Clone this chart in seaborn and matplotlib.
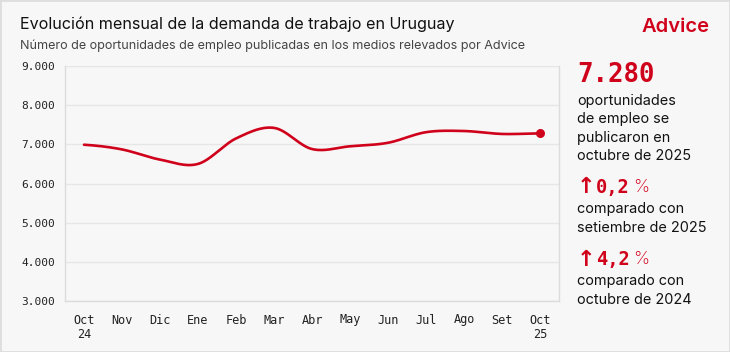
import numpy as np
import pandas as pd
import matplotlib
matplotlib.use("Agg")
import matplotlib.pyplot as plt
import seaborn as sns
from matplotlib.patches import Rectangle

months = ["Oct\n24", "Nov", "Dic", "Ene", "Feb", "Mar", "Abr", "May", "Jun", "Jul", "Ago", "Set", "Oct\n25"]
values = [6990, 6870, 6610, 6500, 7150, 7420, 6880, 6950, 7040, 7310, 7340, 7265, 7280]
yticks = [3000, 4000, 5000, 6000, 7000, 8000, 9000]
ytick_labels = ["3.000", "4.000", "5.000", "6.000", "7.000", "8.000", "9.000"]

title = "Evolución mensual de la demanda de trabajo en Uruguay"
subtitle = "Número de oportunidades de empleo publicadas en los medios relevados por Advice"
RED = "#d0021b"
BG = "#f7f7f7"

sns.set_theme(style="white")
plt.rcParams['font.family'] = ['Inter', 'DejaVu Sans']

fig = plt.figure(figsize=(7.3, 3.52), dpi=100, facecolor=BG)
ax = fig.add_axes([65/730, 1-301/352, (559-65)/730, (301-66)/352])
ax.set_facecolor(BG)

# Catmull-Rom smoothing for rendering
x = np.arange(len(values), dtype=float)
y = np.array(values, dtype=float)
P = np.concatenate([[y[0]], y, [y[-1]]])
X = np.concatenate([[x[0]-1], x, [x[-1]+1]])
xs, ys = [], []
for i in range(1, len(P)-2):
    t = np.linspace(0, 1, 30, endpoint=(i == len(P)-3))
    for arr, out in ((X, xs), (P, ys)):
        p0, p1, p2, p3 = arr[i-1], arr[i], arr[i+1], arr[i+2]
        out.extend(0.5*((2*p1) + (-p0+p2)*t + (2*p0-5*p1+4*p2-p3)*t**2 + (-p0+3*p1-3*p2+p3)*t**3))
smooth = pd.DataFrame({"x": xs, "y": ys})

for yt in yticks:
    ax.axhline(yt, color="#e6e6e6", lw=1, zorder=0)

sns.lineplot(data=smooth, x="x", y="y", ax=ax, color=RED, lw=1.9, zorder=3)
ax.scatter([x[-1]], [y[-1]], s=30, color=RED, zorder=4)

ax.set_xlim(-0.5, 12.5)
ax.set_ylim(3000, 9000)
ax.set_xticks(x)
ax.set_xticklabels(months, family="DejaVu Sans Mono", fontsize=8.6, color="#222", linespacing=1.15)
ax.set_xticks(np.arange(-0.5, 12.6, 1), minor=True)
ax.tick_params(axis="x", which="major", length=0, pad=9)
ax.tick_params(axis="x", which="minor", length=3, color="#dcdcdc", width=1)
ax.set_yticks(yticks)
ax.set_yticklabels(ytick_labels, family="DejaVu Sans Mono", fontsize=8, color="#222")
ax.tick_params(axis="y", length=0, pad=7)
ax.set_xlabel("")
ax.set_ylabel("")
for s in ["left", "right", "bottom"]:
    ax.spines[s].set_color("#dcdcdc")
    ax.spines[s].set_linewidth(1)
ax.spines["top"].set_visible(False)

fig.add_artist(Rectangle((0, 0), 1, 1, transform=fig.transFigure, fill=False, edgecolor="#dedede", lw=2))

fig.text(20/730, 1-24/352, title, fontsize=11.6, color="#111", va="center", ha="left")
fig.text(20/730, 1-46/352, subtitle, fontsize=9.05, color="#444", va="center", ha="left")
fig.text(709/730, 1-27/352, "Advice", fontsize=14.5, color=RED, va="center", ha="right", fontweight="semibold")

rx = 577/730
fs = 10.4
fig.text(rx, 1-75/352, "7.280", family="DejaVu Sans Mono", fontweight="bold", fontsize=18.5, color=RED, va="center")
for i, line in enumerate(["oportunidades", "de empleo se", "publicaron en", "octubre de 2025"]):
    fig.text(rx, 1-(101+18.5*i)/352, line, fontsize=fs, color="#111", va="center")

def pct(ypix, num):
    fig.text(rx, 1-ypix/352, "↑", family="DejaVu Sans", fontweight="bold", fontsize=16, color=RED, va="center")
    fig.text(596/730, 1-ypix/352, num, family="DejaVu Sans Mono", fontweight="bold", fontsize=13.5, color=RED, va="center")
    fig.text(633/730, 1-ypix/352, "%", fontsize=13, fontweight="light", color=RED, va="center")

pct(187, "0,2")
for i, line in enumerate(["comparado con", "setiembre de 2025"]):
    fig.text(rx, 1-(209+18.5*i)/352, line, fontsize=fs, color="#111", va="center")
pct(260, "4,2")
for i, line in enumerate(["comparado con", "octubre de 2024"]):
    fig.text(rx, 1-(281+18.5*i)/352, line, fontsize=fs, color="#111", va="center")

fig.savefig("out.png", dpi=100, facecolor=BG)
